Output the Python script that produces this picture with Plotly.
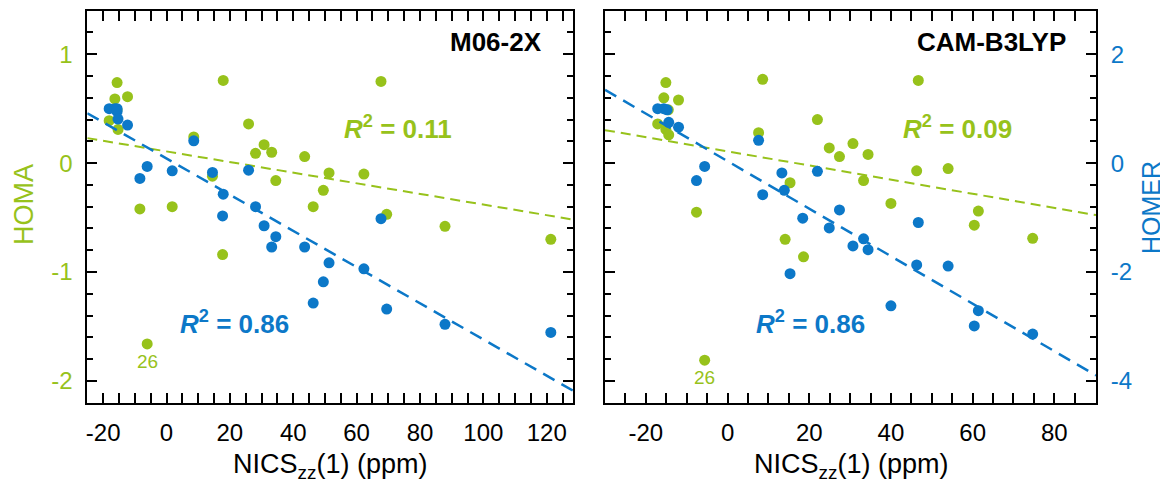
import numpy as np
import plotly.graph_objects as go

# ---------------- data ----------------
# Left panel: M06-2X
nics_m06 = [-18.1, -16.3, -15.6, -15.6, -15.3, -12.3, -8.4, -6.1, 1.8, 8.6, 14.5, 17.7, 17.9,
            25.9, 28.1, 30.8, 33.2, 34.5, 43.6, 46.3, 49.5, 51.3, 62.3, 67.7, 69.5, 87.9, 121.3]
homa_m06 = [0.39, 0.59, 0.74, 0.49, 0.31, 0.61, -0.42, -1.66, -0.40, 0.24, -0.12, -0.84, 0.76,
            0.36, 0.09, 0.17, 0.10, -0.16, 0.06, -0.40, -0.25, -0.09, -0.10, 0.75, -0.47, -0.58, -0.70]
homer_m06 = [1.00, 1.00, 1.00, 0.95, 0.81, 0.70, -0.28, -0.06, -0.14, 0.41, -0.17, -0.97, -0.57,
             -0.13, -0.80, -1.15, -1.54, -1.35, -1.54, -2.57, -2.18, -1.83, -1.94, -1.02, -2.68, -2.96, -3.11]

# Right panel: CAM-B3LYP
nics_cam_homa = [-17.1, -15.6, -15.1, -15.1, -14.5, -14.4, -12.0, -7.6, -5.6, 7.6, 8.6, 14.1, 15.3,
                 18.6, 22.0, 24.9, 27.4, 30.7, 33.3, 34.4, 40.0, 46.3, 46.7, 54.0, 60.4, 61.4, 74.7]
homa_cam = [0.36, 0.60, 0.74, 0.31, 0.49, 0.26, 0.58, -0.45, -1.81, 0.28, 0.77, -0.70, -0.18,
            -0.86, 0.40, 0.14, 0.06, 0.18, -0.16, 0.08, -0.37, -0.07, 0.76, -0.05, -0.57, -0.44, -0.69]
nics_cam_homer = [-17.1, -15.6, -14.8, -14.4, -12.0, -7.6, -5.6, 7.6, 8.6, 13.3, 13.9, 15.3, 18.4,
                  22.0, 24.9, 27.4, 30.7, 33.3, 34.4, 40.0, 46.3, 46.7, 54.0, 60.4, 61.4, 74.7]
homer_cam = [1.00, 1.00, 0.98, 0.75, 0.66, -0.32, -0.06, 0.42, -0.58, -0.18, -0.50, -2.03, -1.01,
             -0.15, -1.19, -0.86, -1.52, -1.39, -1.59, -2.62, -1.87, -1.09, -1.89, -2.99, -2.71, -3.14]

panel_titles = ["M06-2X", "CAM-B3LYP"]
r2_labels = {"m06_homa": "0.11", "m06_homer": "0.86", "cam_homa": "0.09", "cam_homer": "0.86"}
outlier_label = "26"

x_ticks_m06 = [-20, 0, 20, 40, 60, 80, 100, 120]
x_ticks_cam = [-20, 0, 20, 40, 60, 80]
homa_ticks = [-2, -1, 0, 1]
homer_ticks = [-4, -2, 0, 2]


def labels(vals):
    return [str(v) for v in vals]  # plain hyphen minus as in the reference


# ---------------- style / layout ----------------
GREEN = "#97C21B"
BLUE = "#0C78C8"
FONT = "Liberation Sans, Arial, Helvetica, sans-serif"

# the page body adds an 8 px margin; the figure fills the rest of the 1168x484 window
OFF = 8
W, H = 1168 - OFF, 484 - OFF


def px(X):
    return (X - OFF) / W


def py(Y):
    return 1 - (Y - OFF) / H


x_range_m06 = [-25, 128.3]
x_range_cam = [-30, 90.2]
homa_range = [-2.2, 1.4]
homer_range = [-4.4, 2.8]

fig = go.Figure()


def fit_line(x, y, xr):
    k, b = np.polyfit(np.array(x), np.array(y), 1)
    xs = np.array(xr)
    return xs, k * xs + b


marker = dict(size=11, line=dict(width=0))

# Left panel
fig.add_trace(go.Scatter(x=nics_m06, y=homa_m06, mode="markers", marker=dict(color=GREEN, **marker),
                         xaxis="x", yaxis="y", showlegend=False))
lx, ly = fit_line(nics_m06, homa_m06, x_range_m06)
fig.add_trace(go.Scatter(x=lx, y=ly, mode="lines", line=dict(color=GREEN, width=2, dash="10px,6px"),
                         xaxis="x", yaxis="y", showlegend=False))
fig.add_trace(go.Scatter(x=nics_m06, y=homer_m06, mode="markers", marker=dict(color=BLUE, **marker),
                         xaxis="x", yaxis="y2", showlegend=False))
lx, ly = fit_line(nics_m06, homer_m06, x_range_m06)
fig.add_trace(go.Scatter(x=lx, y=ly, mode="lines", line=dict(color=BLUE, width=2.5, dash="13px,8px"),
                         xaxis="x", yaxis="y2", showlegend=False))

# Right panel
fig.add_trace(go.Scatter(x=nics_cam_homa, y=homa_cam, mode="markers", marker=dict(color=GREEN, **marker),
                         xaxis="x2", yaxis="y3", showlegend=False))
lx, ly = fit_line(nics_cam_homa, homa_cam, x_range_cam)
fig.add_trace(go.Scatter(x=lx, y=ly, mode="lines", line=dict(color=GREEN, width=2, dash="10px,6px"),
                         xaxis="x2", yaxis="y3", showlegend=False))
fig.add_trace(go.Scatter(x=nics_cam_homer, y=homer_cam, mode="markers", marker=dict(color=BLUE, **marker),
                         xaxis="x2", yaxis="y4", showlegend=False))
lx, ly = fit_line(nics_cam_homer, homer_cam, x_range_cam)
fig.add_trace(go.Scatter(x=lx, y=ly, mode="lines", line=dict(color=BLUE, width=2.5, dash="13px,8px"),
                         xaxis="x2", yaxis="y4", showlegend=False))

YDOM = [py(402.7), py(10.7)]
TICK_SIZE = 24
tickfont = dict(family=FONT, size=TICK_SIZE, color="black")
minor_x = dict(dtick=5, tick0=0, ticks="inside", ticklen=6, tickwidth=1.5, tickcolor="black", showgrid=False)

common = dict(showline=True, linecolor="black", linewidth=2, mirror="allticks", ticks="inside",
              ticklen=10, tickwidth=1.5, tickcolor="black", showgrid=False, zeroline=False,
              automargin=False)

fig.update_layout(
    width=W, height=H,
    margin=dict(l=0, r=0, t=0, b=0, pad=0),
    paper_bgcolor="white", plot_bgcolor="white",
    font=dict(family=FONT),
    xaxis=dict(domain=[px(87.3), px(573)], range=x_range_m06, anchor="y",
               tickmode="array", tickvals=x_ticks_m06, ticktext=labels(x_ticks_m06),
               tickfont=tickfont, ticklabelstandoff=7, minor=minor_x, **common),
    yaxis=dict(domain=YDOM, range=homa_range, anchor="x",
               tickmode="array", tickvals=homa_ticks, ticktext=labels(homa_ticks),
               tickfont=dict(family=FONT, size=TICK_SIZE, color=GREEN), ticklabelstandoff=8,
               minor=dict(dtick=0.2, tick0=0, ticks="inside", ticklen=6, tickwidth=1.5, tickcolor="black",
                          showgrid=False), **common),
    yaxis2=dict(range=homer_range, overlaying="y", anchor="x", visible=False, automargin=False),
    xaxis2=dict(domain=[px(605), px(1096)], range=x_range_cam, anchor="y3",
                tickmode="array", tickvals=x_ticks_cam, ticktext=labels(x_ticks_cam),
                tickfont=tickfont, ticklabelstandoff=7, minor=minor_x, **common),
    yaxis3=dict(domain=YDOM, range=homa_range, anchor="x2", visible=False, automargin=False),
    yaxis4=dict(range=homer_range, overlaying="y3", anchor="x2", side="right",
                tickmode="array", tickvals=homer_ticks, ticktext=labels(homer_ticks),
                tickfont=dict(family=FONT, size=TICK_SIZE, color=BLUE), ticklabelstandoff=8,
                minor=dict(dtick=0.4, tick0=0, ticks="inside", ticklen=6, tickwidth=1.5, tickcolor="black",
                           showgrid=False), **common),
)

ann = []
title_font = dict(family=FONT, size=27, color="black")
for xc in [(87.3 + 573) / 2, (605 + 1096) / 2]:
    ann.append(dict(text="NICS<sub>zz</sub>(1) (ppm)", xref="paper", yref="paper",
                    x=px(xc), y=py(466), xanchor="center", yanchor="middle",
                    showarrow=False, font=title_font))
ann.append(dict(text="HOMA", xref="paper", yref="paper", x=px(24), y=py(205), textangle=-90,
                xanchor="center", yanchor="middle", showarrow=False,
                font=dict(family=FONT, size=27, color=GREEN)))
ann.append(dict(text="HOMER", xref="paper", yref="paper", x=px(1151), y=py(208), textangle=-90,
                xanchor="center", yanchor="middle", showarrow=False,
                font=dict(family=FONT, size=25, color=BLUE)))

bold = dict(family=FONT, size=26, weight="bold")
ann.append(dict(text=panel_titles[0], xref="x", yref="y", x=119.1, y=1.114, xanchor="right",
                yanchor="middle", showarrow=False, font=dict(bold, color="black")))
ann.append(dict(text=panel_titles[1], xref="x2", yref="y3", x=83.3, y=1.114, xanchor="right",
                yanchor="middle", showarrow=False, font=dict(bold, color="black")))


def r2(v):
    return "<i>R</i><sup>2</sup> = " + v


ann.append(dict(text=r2(r2_labels["m06_homa"]), xref="x", yref="y", x=73.0, y=0.33, showarrow=False,
                xanchor="center", yanchor="middle", font=dict(bold, color=GREEN)))
ann.append(dict(text=r2(r2_labels["m06_homer"]), xref="x", yref="y", x=21.6, y=-1.46, showarrow=False,
                xanchor="center", yanchor="middle", font=dict(bold, color=BLUE)))
ann.append(dict(text=r2(r2_labels["cam_homa"]), xref="x2", yref="y3", x=56.4, y=0.33, showarrow=False,
                xanchor="center", yanchor="middle", font=dict(bold, color=GREEN)))
ann.append(dict(text=r2(r2_labels["cam_homer"]), xref="x2", yref="y3", x=20.4, y=-1.46, showarrow=False,
                xanchor="center", yanchor="middle", font=dict(bold, color=BLUE)))

i26 = int(np.argmin(homa_m06))
ann.append(dict(text=outlier_label, xref="x", yref="y", x=nics_m06[i26], y=homa_m06[i26], yshift=-18,
                xanchor="center", yanchor="middle", showarrow=False,
                font=dict(family=FONT, size=19, color=GREEN)))
j26 = int(np.argmin(homa_cam))
ann.append(dict(text=outlier_label, xref="x2", yref="y3", x=nics_cam_homa[j26], y=homa_cam[j26], yshift=-17,
                xanchor="center", yanchor="middle", showarrow=False,
                font=dict(family=FONT, size=19, color=GREEN)))

fig.update_layout(annotations=ann)
fig.write_html("out.html")
